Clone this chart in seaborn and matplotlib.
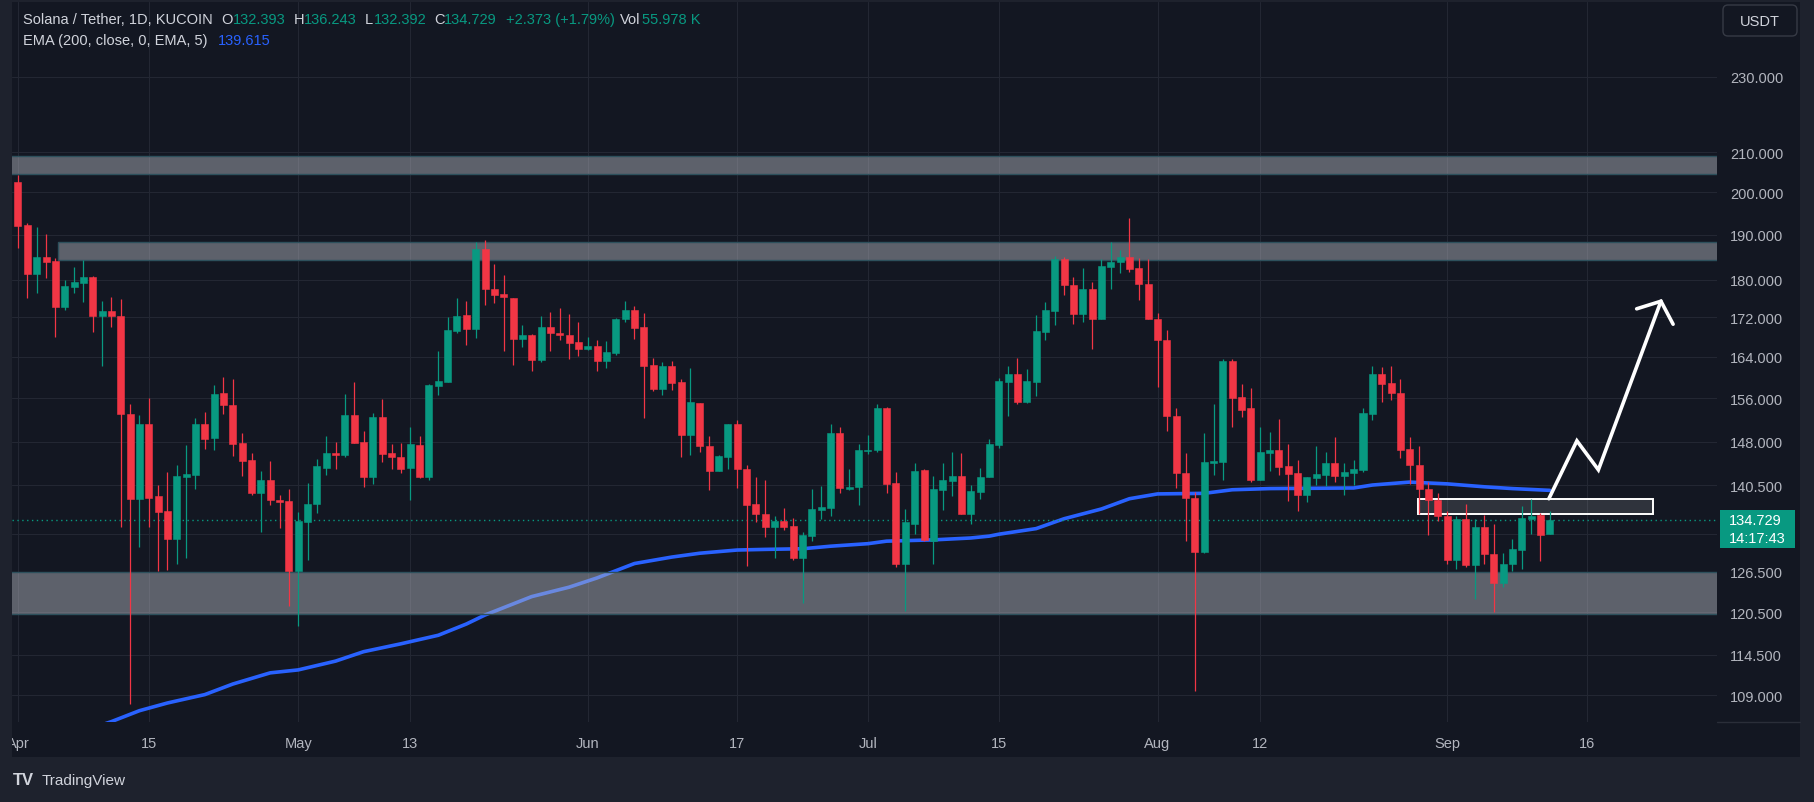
import numpy as np
import pandas as pd
import matplotlib
matplotlib.use('Agg')
import matplotlib.pyplot as plt
import matplotlib.patches as mpatches
import matplotlib.ticker as mticker
from matplotlib.lines import Line2D
from matplotlib.transforms import Bbox
import seaborn as sns

# 日线数据 SOL/USDT (2024-04-01 起)
dates = pd.date_range('2024-04-01', periods=165, freq='D')

opens = [202.5, 192.3, 181.3, 185.0, 184.2, 174.2, 178.5, 179.4, 180.6, 172.2,
         173.3, 172.3, 153.1, 138.2, 151.3, 138.6, 136.1, 131.7, 141.9, 142.2,
         151.3, 148.7, 157.1, 154.8, 147.8, 144.8, 139.1, 141.3, 138.0, 137.9,
         126.6, 134.4, 137.3, 143.5, 146.1, 145.6, 152.9, 148.0, 141.9, 152.6,
         146.1, 145.4, 143.5, 147.5, 141.9, 158.4, 159.2, 169.3, 172.5, 169.7,
         186.8, 178.0, 177.0, 176.1, 167.5, 168.4, 163.3, 170.0, 168.9, 168.4,
         167.0, 165.5, 166.2, 163.1, 164.8, 171.6, 173.5, 170.0, 162.4, 157.7,
         162.2, 159.1, 149.3, 155.2, 147.3, 142.9, 145.4, 151.3, 143.3, 137.3,
         135.7, 133.5, 134.6, 133.8, 128.6, 132.1, 136.4, 136.7, 149.6, 139.9,
         140.1, 146.4, 146.6, 154.1, 140.8, 127.7, 134.1, 143.1, 131.4, 139.7,
         141.2, 142.0, 135.6, 139.4, 141.8, 147.5, 159.2, 160.7, 155.4, 159.2,
         169.1, 173.4, 184.5, 178.9, 172.8, 178.0, 171.7, 182.8, 183.8, 185.0,
         182.6, 179.1, 171.6, 167.4, 152.8, 142.6, 138.4, 129.6, 144.2, 144.5,
         163.2, 156.3, 154.1, 141.3, 146.1, 146.6, 143.8, 142.6, 138.9, 141.7,
         142.2, 144.3, 142.0, 142.6, 143.1, 153.1, 160.7, 158.9, 157.1, 146.8,
         144.0, 139.9, 138.0, 135.3, 128.4, 134.8, 127.5, 133.6, 129.3, 124.9,
         127.7, 129.9, 134.9, 135.5, 132.393]
highs = [204.3, 192.7, 191.8, 190.2, 184.9, 180.0, 182.8, 184.4, 180.9, 175.5,
         176.4, 175.9, 154.9, 152.9, 156.1, 140.5, 142.7, 144.0, 147.5, 152.4,
         153.5, 158.5, 160.1, 159.7, 149.6, 146.1, 142.9, 144.7, 138.9, 139.9,
         136.0, 140.8, 145.0, 149.0, 148.0, 156.9, 159.1, 149.9, 153.3, 155.8,
         147.6, 147.8, 150.7, 149.0, 158.8, 165.2, 172.1, 176.1, 175.5, 188.4,
         188.9, 183.5, 181.0, 176.1, 170.4, 168.6, 172.3, 173.1, 174.0, 172.7,
         171.0, 168.0, 167.3, 167.2, 171.9, 175.5, 174.4, 172.9, 163.8, 163.0,
         163.2, 159.7, 161.9, 155.2, 149.0, 145.7, 151.3, 151.9, 143.9, 141.9,
         141.3, 135.3, 136.6, 135.0, 132.7, 139.9, 140.4, 151.3, 150.7, 143.3,
         147.6, 149.2, 155.0, 154.4, 142.7, 136.5, 144.3, 143.3, 142.0, 144.3,
         146.3, 146.1, 140.5, 143.5, 148.5, 159.9, 162.3, 163.8, 161.6, 172.5,
         175.2, 185.2, 185.1, 180.6, 182.6, 179.5, 184.5, 188.4, 186.6, 194.0,
         184.8, 184.5, 172.9, 169.4, 154.1, 146.1, 139.4, 149.6, 155.0, 163.6,
         163.6, 158.8, 158.0, 150.7, 149.8, 152.2, 147.6, 144.8, 141.9, 147.3,
         146.3, 148.9, 144.3, 144.8, 154.1, 162.2, 162.0, 162.2, 159.7, 148.9,
         147.3, 141.0, 139.2, 136.1, 135.3, 137.4, 134.8, 135.5, 134.1, 129.5,
         131.7, 137.0, 138.1, 135.9, 136.243]
lows = [187.1, 176.1, 177.1, 180.3, 168.0, 173.6, 177.1, 175.3, 169.1, 162.2,
        170.1, 133.6, 107.9, 130.4, 133.6, 126.6, 126.8, 127.7, 128.6, 139.8,
        146.8, 146.6, 153.1, 145.5, 142.1, 138.8, 132.7, 137.1, 133.4, 121.4,
        118.5, 128.3, 135.9, 142.2, 143.3, 145.4, 147.9, 140.1, 140.6, 144.5,
        143.2, 142.5, 138.0, 141.7, 141.3, 156.7, 159.2, 168.7, 166.3, 167.7,
        174.5, 175.1, 165.2, 162.5, 166.0, 161.2, 163.0, 165.1, 167.3, 163.6,
        164.1, 165.3, 161.3, 161.9, 164.4, 171.1, 167.5, 152.4, 157.3, 156.6,
        157.5, 145.3, 145.6, 146.2, 139.6, 142.9, 143.2, 140.0, 127.4, 134.4,
        131.9, 128.7, 133.0, 128.3, 121.8, 131.3, 134.8, 135.3, 139.1, 139.7,
        137.2, 145.9, 146.2, 139.1, 127.2, 120.7, 132.4, 131.3, 127.8, 136.4,
        138.7, 135.6, 134.0, 138.1, 141.8, 147.0, 152.7, 154.9, 155.2, 156.4,
        167.3, 170.5, 176.8, 170.7, 171.1, 165.5, 171.7, 178.1, 181.4, 181.8,
        175.6, 171.6, 158.1, 150.0, 140.0, 131.3, 109.6, 129.5, 142.2, 141.3,
        150.7, 152.6, 141.0, 141.3, 142.9, 142.2, 137.8, 136.2, 137.6, 140.5,
        140.4, 141.0, 138.9, 140.5, 142.7, 152.0, 155.4, 155.7, 145.1, 140.7,
        135.7, 132.2, 134.6, 127.7, 127.0, 127.2, 122.5, 127.8, 120.6, 124.2,
        126.6, 127.0, 132.5, 128.2, 132.392]
closes = [192.1, 181.3, 185.0, 183.8, 174.2, 178.7, 179.5, 180.6, 172.3, 173.3,
          172.2, 153.0, 138.2, 151.3, 138.4, 136.0, 131.7, 142.0, 142.4, 151.3,
          148.6, 156.9, 154.7, 147.7, 144.7, 139.1, 141.3, 138.0, 137.6, 126.6,
          134.6, 137.4, 143.8, 146.1, 145.6, 152.9, 147.9, 141.9, 152.6, 145.8,
          145.3, 143.3, 147.6, 141.9, 158.6, 159.3, 169.4, 172.3, 169.7, 186.8,
          178.1, 176.8, 176.2, 167.5, 168.4, 163.3, 170.0, 168.7, 168.3, 166.8,
          165.5, 166.2, 163.1, 165.0, 171.6, 173.5, 169.9, 162.2, 157.7, 162.2,
          159.0, 149.3, 155.4, 147.2, 142.9, 145.5, 151.3, 143.2, 137.2, 135.6,
          133.5, 134.6, 133.6, 128.6, 132.3, 136.5, 136.8, 149.6, 140.0, 140.2,
          146.6, 146.6, 154.1, 140.7, 127.8, 134.4, 142.9, 131.5, 139.9, 141.3,
          142.0, 135.6, 139.5, 141.9, 147.6, 159.3, 160.7, 155.4, 159.3, 169.2,
          173.5, 184.5, 178.8, 172.8, 178.0, 171.7, 183.0, 183.9, 185.0, 182.4,
          179.0, 171.6, 167.3, 152.7, 142.5, 138.3, 129.6, 144.5, 144.7, 163.2,
          156.1, 153.9, 141.3, 146.3, 146.6, 143.6, 142.4, 138.9, 141.9, 142.4,
          144.3, 142.0, 142.7, 143.3, 153.3, 160.7, 158.8, 157.1, 146.6, 143.9,
          139.9, 138.0, 135.3, 128.4, 134.8, 127.5, 133.6, 129.3, 124.9, 127.8,
          130.1, 135.0, 135.4, 132.2, 134.729]

# EMA 200 读数 (天序号, 数值)
ema_days = [9, 10, 13, 16, 20, 23, 27, 30, 34, 37, 41, 45, 48, 50, 55, 59, 62, 66,
            70, 73, 77, 80, 84, 87, 91, 93, 98, 102, 104, 105, 109, 112, 116, 119,
            122, 127, 130, 134, 143, 145, 149, 153, 157, 160, 164]
ema_vals = [105.2, 105.6, 107.0, 108.0, 109.1, 110.5, 112.0, 112.4, 113.6, 114.9,
            116.0, 117.2, 118.8, 120.1, 122.8, 124.2, 125.6, 127.8, 128.8, 129.4,
            129.9, 130.0, 130.1, 130.5, 130.9, 131.3, 131.5, 131.8, 132.1, 132.4,
            133.3, 134.9, 136.5, 138.2, 139.0, 139.1, 139.7, 139.9, 140.0, 140.5,
            141.0, 140.7, 140.2, 139.9, 139.6]
ema_last = 139.615

price_ticks = [109, 114.5, 120.5, 126.5, 132.5, 140.5, 148, 156, 164, 172, 180,
               190, 200, 210, 230]
date_ticks = ['2024-04-01', '2024-04-15', '2024-05-01', '2024-05-13', '2024-06-01',
              '2024-06-17', '2024-07-01', '2024-07-15', '2024-08-01', '2024-08-12',
              '2024-09-01', '2024-09-16']
date_labels = ['Apr', '15', 'May', '13', 'Jun', '17', 'Jul', '15', 'Aug', '12', 'Sep', '16']

# 画线: 支撑/阻力区, 方框, 箭头
zone_top = [204.4, 209.1]
zone_mid = [184.4, 188.5]
zone_mid_start = 4.25
zone_low = [120.2, 126.5]
box_days = [149.9, 175.0]
box_prices = [135.6, 138.2]
arrow_days = [163.9, 166.9, 169.2, 175.9]
arrow_prices = [138.2, 148.2, 143.1, 175.4]
head_days = [173.3, 175.9, 177.2]
head_prices = [173.8, 175.4, 170.6]

UP = '#089981'
DOWN = '#f23645'
BLUE = '#2962ff'
TXT = '#d1d4dc'
AXT = '#b2b5be'
PANE = '#131722'

W, H = 1814, 803
sns.set_theme(style='dark')
plt.rcParams['font.family'] = ['Liberation Sans', 'DejaVu Sans']

fig = plt.figure(figsize=(W / 100, H / 100), dpi=100, facecolor='#1e222d')
fig.patches.append(mpatches.Rectangle((12 / W, 1 - 758 / H), (1800 - 12) / W, (758 - 3) / H,
                                      transform=fig.transFigure, facecolor=PANE,
                                      edgecolor='none', zorder=-5))
ax = fig.add_axes([12 / W, 1 - 723 / H, (1717 - 12) / W, (723 - 3) / H])
ax.set_facecolor(PANE)

x = (dates - dates[0]).days.values
o, h, l, c = map(np.array, (opens, highs, lows, closes))
cols = np.where(c >= o, UP, DOWN)

ax.set_yscale('log')
ax.set_xlim(-0.642, 181.9)
ax.set_ylim(105.55, 251.7)

# EMA
sns.lineplot(x=ema_days, y=ema_vals, color=BLUE, lw=2.6, ax=ax, zorder=2, legend=False)

# 区域
band_face = matplotlib.colors.to_rgba('#b2b5be', 0.47)
for lo_, hi_, x0 in [(zone_top[0], zone_top[1], -1), (zone_mid[0], zone_mid[1], zone_mid_start),
                     (zone_low[0], zone_low[1], -1)]:
    ax.add_patch(mpatches.Rectangle((x0, lo_), 200 - x0, hi_ - lo_, facecolor=band_face,
                                    edgecolor='#2d505c', lw=1, zorder=3))

ax.add_patch(mpatches.Rectangle((box_days[0], box_prices[0]), box_days[1] - box_days[0],
                                box_prices[1] - box_prices[0], facecolor=(1, 1, 1, 0.12),
                                edgecolor='white', lw=1.4, zorder=3))

# K线
ax.vlines(x, l, h, colors=cols, lw=0.9, zorder=4)
ax.bar(x, np.maximum(o, c) - np.minimum(o, c), bottom=np.minimum(o, c), width=0.75,
       color=cols, edgecolor=cols, lw=0.4, zorder=5)

# 当前价格虚线
ax.axhline(closes[-1], color=UP, lw=1, ls=(0, (1, 2.5)), zorder=3)

# 箭头
ax.plot(arrow_days, arrow_prices, color='white', lw=2.6, solid_joinstyle='miter', zorder=7)
ax.plot(head_days, head_prices, color='white', lw=2.6, solid_joinstyle='miter', zorder=7)

# 坐标轴
ax.set_yticks(price_ticks)
ax.set_yticklabels(['' if t == 132.5 else f'{t:.3f}' for t in price_ticks])
ax.yaxis.set_minor_locator(mticker.NullLocator())
ax.yaxis.set_minor_formatter(mticker.NullFormatter())
ax.yaxis.tick_right()
ax.tick_params(axis='y', length=0, pad=9.4, labelcolor=AXT, labelsize=10.5)

tick_x = [(pd.Timestamp(d) - dates[0]).days for d in date_ticks]
ax.set_xticks(tick_x)
ax.set_xticklabels(date_labels)
ax.tick_params(axis='x', length=0, pad=10, labelcolor=AXT, labelsize=10.5)
ax.grid(True, which='major', color='#232733', lw=0.8)
ax.set_axisbelow(True)
for s in ax.spines.values():
    s.set_visible(False)
ax.set_xlabel('')
ax.set_ylabel('')
clip = Bbox.from_extents(12, 0, 1800, H)
for lbl in ax.get_xticklabels():
    lbl.set_clip_on(True)
    lbl.set_clip_box(clip)

# 价格标签
y_disp = ax.transData.transform((0, closes[-1]))[1]
yf = y_disp / H
fig.patches.append(mpatches.Rectangle((1720 / W, yf - 28 / H), 75 / W, 38 / H,
                                      transform=fig.transFigure, facecolor=UP,
                                      edgecolor='none', zorder=5))
fig.text(1729 / W, yf, f'{closes[-1]:.3f}', color='white', fontsize=10.5, va='center', ha='left', zorder=6)
fig.text(1729 / W, yf - 18 / H, '14:17:43', color='white', fontsize=10.5, va='center', ha='left', zorder=6)

fig.add_artist(Line2D([1717 / W, 1800 / W], [1 - 723 / H] * 2, transform=fig.transFigure,
                      color='#2a2e39', lw=1))

# USDT
fig.patches.append(mpatches.FancyBboxPatch((1723, H - 37), 74, 31,
                                           boxstyle='round,pad=0,rounding_size=5',
                                           transform=None, facecolor=PANE,
                                           edgecolor='#363a45', lw=1, zorder=5))
fig.text(1760 / W, 1 - 21.5 / H, 'USDT', color=TXT, fontsize=10.5, va='center', ha='center', zorder=6)

# 标题行
y1 = 1 - 20 / H
y2 = 1 - 41 / H
header = [(23, 'Solana / Tether, 1D, KUCOIN', TXT), (221, 'O', TXT), (233, '132.393', UP),
          (294, 'H', TXT), (304, '136.243', UP), (365, 'L', TXT), (374, '132.392', UP),
          (434, 'C', TXT), (444, '134.729', UP), (506, '+2.373 (+1.79%)', UP),
          (620, 'Vol', TXT), (642, '55.978 K', UP)]
for px, s, col in header:
    fig.text(px / W, y1, s, color=col, fontsize=10.5, va='center', ha='left')
fig.text(23 / W, y2, 'EMA (200, close, 0, EMA, 5)', color=TXT, fontsize=10.5, va='center', ha='left')
fig.text(218 / W, y2, f'{ema_last:.3f}', color=BLUE, fontsize=10.5, va='center', ha='left')

# 页脚
fig.text(13 / W, 1 - 781 / H, 'TV', color=TXT, fontsize=12, fontweight='heavy', va='center', ha='left')
fig.text(42 / W, 1 - 781 / H, 'TradingView', color=TXT, fontsize=11, va='center', ha='left')

fig.savefig('out.png', dpi=100, facecolor=fig.get_facecolor())
